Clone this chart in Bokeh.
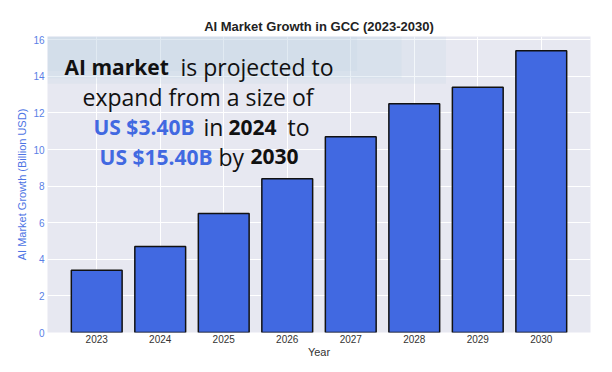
from bokeh.plotting import figure
from bokeh.models import ColumnDataSource, FactorRange, Label, BoxAnnotation
from bokeh.embed import file_html
from bokeh.resources import INLINE

years = ["2023", "2024", "2025", "2026", "2027", "2028", "2029", "2030"]
growth = [3.4, 4.7, 6.5, 8.4, 10.7, 12.5, 13.4, 15.4]
y_ticks = [0, 2, 4, 6, 8, 10, 12, 14, 16]

src = ColumnDataSource(dict(year=years, growth=growth))

p = figure(width=604, height=364, output_backend="svg", toolbar_location=None,
           x_range=FactorRange(*years, range_padding=0.275, range_padding_units="absolute"),
           y_range=(0, 16.18),
           min_border_left=47, min_border_right=14, min_border_top=36, min_border_bottom=32)

p.title.text = "AI Market Growth in GCC (2023-2030)"
p.title.align = "center"
p.title.text_font = "Liberation Sans"
p.title.text_font_size = "13px"
p.title.text_font_style = "bold"
p.title.text_color = "#222222"
p.title.offset = 0
p.title.standoff = 5

p.background_fill_color = "#e7e8f1"
p.border_fill_color = "white"
p.outline_line_color = None

p.vbar(x="year", top="growth", width=0.8, source=src, fill_color="#4169e1",
       line_color="#111111", line_width=1.5)

p.xgrid.grid_line_color = "white"
p.ygrid.grid_line_color = "white"

for ax in (p.xaxis, p.yaxis):
    ax.axis_line_color = None
    ax.major_tick_line_color = None
    ax.minor_tick_line_color = None
    ax.major_tick_out = 0
    ax.major_tick_in = 0
    ax.minor_tick_out = 0
    ax.minor_tick_in = 0
    ax.major_label_text_font = "Liberation Sans"
    ax.major_label_text_font_size = "10px"
    ax.axis_label_text_font = "Liberation Sans"
    ax.axis_label_text_font_style = "normal"
    ax.axis_label_text_font_size = "11px"

p.yaxis.ticker = y_ticks
p.yaxis.major_label_text_color = "#5a7fe6"
p.yaxis.axis_label = "AI Market Growth (Billion USD)"
p.yaxis.axis_label_text_color = "#4d74e4"
p.yaxis.axis_label_standoff = 2
p.yaxis.major_label_standoff = 3

p.xaxis.major_label_text_color = "#333333"
p.xaxis.major_label_standoff = 2
p.xaxis.axis_label = "Year"
p.xaxis.axis_label_text_color = "#333333"
p.xaxis.axis_label_standoff = 0

# soft band behind headline
for left, right, bottom, alpha in [(-0.275, 6.0, 13.6, 0.18), (-0.275, 5.3, 13.9, 0.18),
                                   (-0.275, 4.6, 14.3, 0.18)]:
    p.add_layout(BoxAnnotation(left=left, right=right, bottom=bottom, top=16.18,
                               fill_color="#bcd4e6", fill_alpha=alpha, line_color=None))

FONT = "Open Sans"
segments = [
    ("AI market", -0.007, 14.49, "bold", "#111111"),
    ("is projected to", 1.819, 14.49, "normal", "#111111"),
    ("expand from a size of", 0.276, 12.85, "normal", "#111111"),
    ("US $3.40B", 0.449, 11.21, "bold", "#4169e1"),
    ("in", 2.182, 11.21, "normal", "#111111"),
    ("2024", 2.575, 11.21, "bold", "#111111"),
    ("to", 3.505, 11.21, "normal", "#111111"),
    ("US $15.40B", 0.544, 9.62, "bold", "#4169e1"),
    ("by", 2.418, 9.62, "normal", "#111111"),
    ("2030", 2.922, 9.62, "bold", "#111111"),
]
for txt, x, y, style, col in segments:
    p.add_layout(Label(x=x, y=y, text=txt, text_font=FONT,
                       text_font_size="21px" if style == "bold" else "23px",
                       text_font_style=style, text_color=col,
                       text_align="left", text_baseline="alphabetic"))

open("out.html", "w").write(file_html(p, INLINE))
